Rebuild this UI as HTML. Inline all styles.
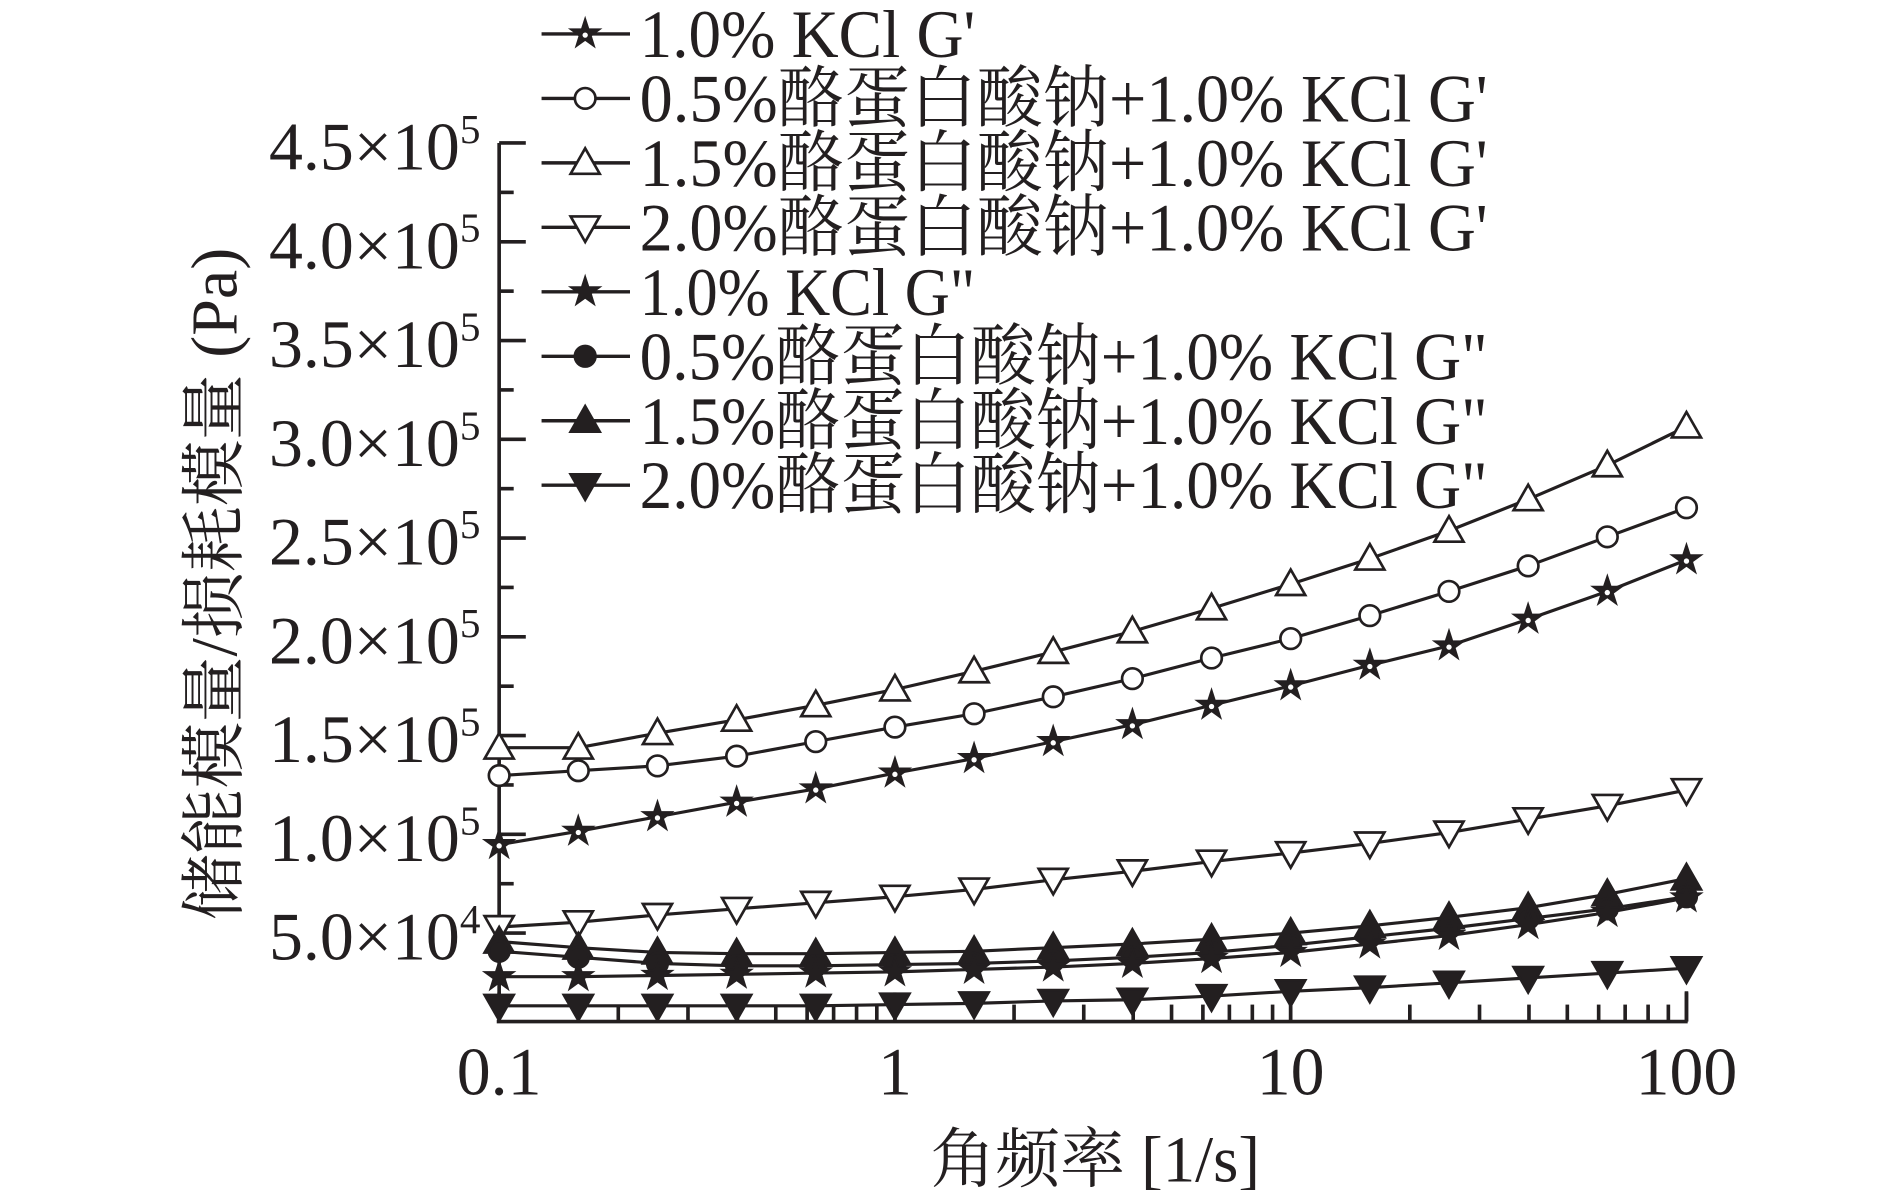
<!DOCTYPE html>
<html><head><meta charset="utf-8"><style>
html,body{margin:0;padding:0;background:#fff;}
svg{display:block;}
text{font-family:"Liberation Serif","Noto Serif CJK SC",serif;fill:#231f20;}
</style></head><body>
<svg id="s" width="1890" height="1190" viewBox="0 0 1560 982" preserveAspectRatio="none" xmlns="http://www.w3.org/2000/svg">
<g stroke="#231f20" stroke-width="3" fill="none">
<line x1="412" y1="118" x2="412" y2="844"/>
<line x1="410" y1="843" x2="1393" y2="843"/>
<line x1="1392" y1="843" x2="1392" y2="818"/>
</g>
<g id="ticks" stroke="#231f20" stroke-width="3"></g>
<g id="series"></g>
<g id="legend"></g>
<g id="labels" font-size="56"></g>
<text x="0" y="0" font-size="54" transform="translate(195,482) rotate(-90)" text-anchor="middle" textLength="555" lengthAdjust="spacingAndGlyphs">储能模量/损耗模量 (Pa)</text>
<text x="768" y="975" font-size="54" textLength="272" lengthAdjust="spacingAndGlyphs">角频率 [1/s]</text>
</svg>
<script>
var NS="http://www.w3.org/2000/svg";
function el(t,a,p){var e=document.createElementNS(NS,t);for(var k in a)e.setAttribute(k,a[k]);(p||document.getElementById('s')).appendChild(e);return e;}
var tk=document.getElementById('ticks'),lb=document.getElementById('labels');
// y ticks
var labs=["4.5","4.0","3.5","3.0","2.5","2.0","1.5","1.0","5.0"];
for(var i=0;i<9;i++){var y=118+i*81.5;el('line',{x1:412,y1:y,x2:434,y2:y},tk);
 if(i<8){var ym=y+40.75;el('line',{x1:412,y1:ym,x2:424,y2:ym},tk);}
 var t=el('text',{x:222,y:y+22,'font-size':56},lb);
 var t1=el('tspan',{},t);t1.textContent=labs[i]+"×10";
 var t2=el('tspan',{dy:-22,'font-size':34},t);t2.textContent=(i==8?"4":"5");
}
// x ticks
var dec=980/3;
for(var d=0;d<3;d++){for(var m=1;m<=10;m++){var x=412+dec*(d+Math.log10(m));var L=(m==1||m==10)?24:14;el('line',{x1:x,y1:843,x2:x,y2:843-L},tk);}}
var xl=["0.1","1","10","100"];
for(var d=0;d<4;d++){var t=el('text',{x:412+dec*d,y:903,'font-size':56,'text-anchor':'middle'},lb);t.textContent=xl[d];}
// markers
function marker(g,type,x,y){
 var c="#231f20";
 if(type=='tu'||type=='TU'){var h=20,w=12;el('polygon',{points:(x)+','+(y-12)+' '+(x-w)+','+(y+9)+' '+(x+w)+','+(y+9),fill:type=='TU'?c:'#fff',stroke:c,'stroke-width':2.2},g);}
 else if(type=='td'||type=='TD'){var w=12;el('polygon',{points:(x)+','+(y+12)+' '+(x-w)+','+(y-9)+' '+(x+w)+','+(y-9),fill:type=='TD'?c:'#fff',stroke:c,'stroke-width':2.2},g);}
 else if(type=='c'||type=='C'){el('circle',{cx:x,cy:y,r:8.5,fill:type=='C'?c:'#fff',stroke:c,'stroke-width':2.2},g);}
 else {var pts=[];for(var k=0;k<10;k++){var r=k%2?5:13;var a=-Math.PI/2+k*Math.PI/5;pts.push((x+r*Math.cos(a)).toFixed(1)+','+(y+r*Math.sin(a)).toFixed(1));}
  el('polygon',{points:pts.join(' '),fill:c,stroke:c,'stroke-width':1.2},g);
  if(type=='s') el('circle',{cx:x,cy:y+1,r:2.2,fill:'#fff'},g);}
}
var S=[
 ['tu',[617,617,605,594,582,569,554,538,521,502,482,461,438,412,384,352]],
 ['c',[640,636,632,624,612,600,589,575,560,543,527,508,488,467,443,419]],
 ['s',[697,686,674,662,651,638,626,612,598,582,566,549,533,511,488,462]],
 ['td',[765,761,755,750,745,740,734,726,719,711,704,696,687,676,665,652]],
 ['TU',[777,782,786,787,787,786,785,782,779,775,770,764,757,749,738,725]],
 ['C',[785,790,795,797,797,796,795,793,790,786,780,773,766,758,750,740]],
 ['S',[806,806,805,804,803,802,800,798,795,791,786,779,772,763,753,741]],
 ['TD',[830,830,830,830,830,829,828,826,825,822,818,815,811,807,803,799]]
];
var sg=document.getElementById('series');
S.forEach(function(s){var p=[];for(var i=0;i<16;i++)p.push((412+i*980/15).toFixed(1)+','+s[1][i]);
 el('polyline',{points:p.join(' '),fill:'none',stroke:'#231f20','stroke-width':2.6},sg);
 for(var i=0;i<16;i++)marker(sg,s[0],412+i*980/15,s[1][i]);});
// legend
var lg=document.getElementById('legend');
var names=["1.0% KCl G'","0.5%酪蛋白酸钠+1.0% KCl G'","1.5%酪蛋白酸钠+1.0% KCl G'","2.0%酪蛋白酸钠+1.0% KCl G'",
"1.0% KCl G\"","0.5%酪蛋白酸钠+1.0% KCl G\"","1.5%酪蛋白酸钠+1.0% KCl G\"","2.0%酪蛋白酸钠+1.0% KCl G\""];
var types=['s','c','tu','td','S','C','TU','TD'];
for(var i=0;i<8;i++){var y=28+i*53.2;
 el('line',{x1:447,y1:y,x2:520,y2:y,stroke:'#231f20','stroke-width':2.8},lg);
 marker(lg,types[i],483,y);
 var t=el('text',{x:528,y:y+19,'font-size':56,textLength:(i%4==0?277:700),lengthAdjust:'spacingAndGlyphs'},lg);t.textContent=names[i];}
</script>
</body></html>
